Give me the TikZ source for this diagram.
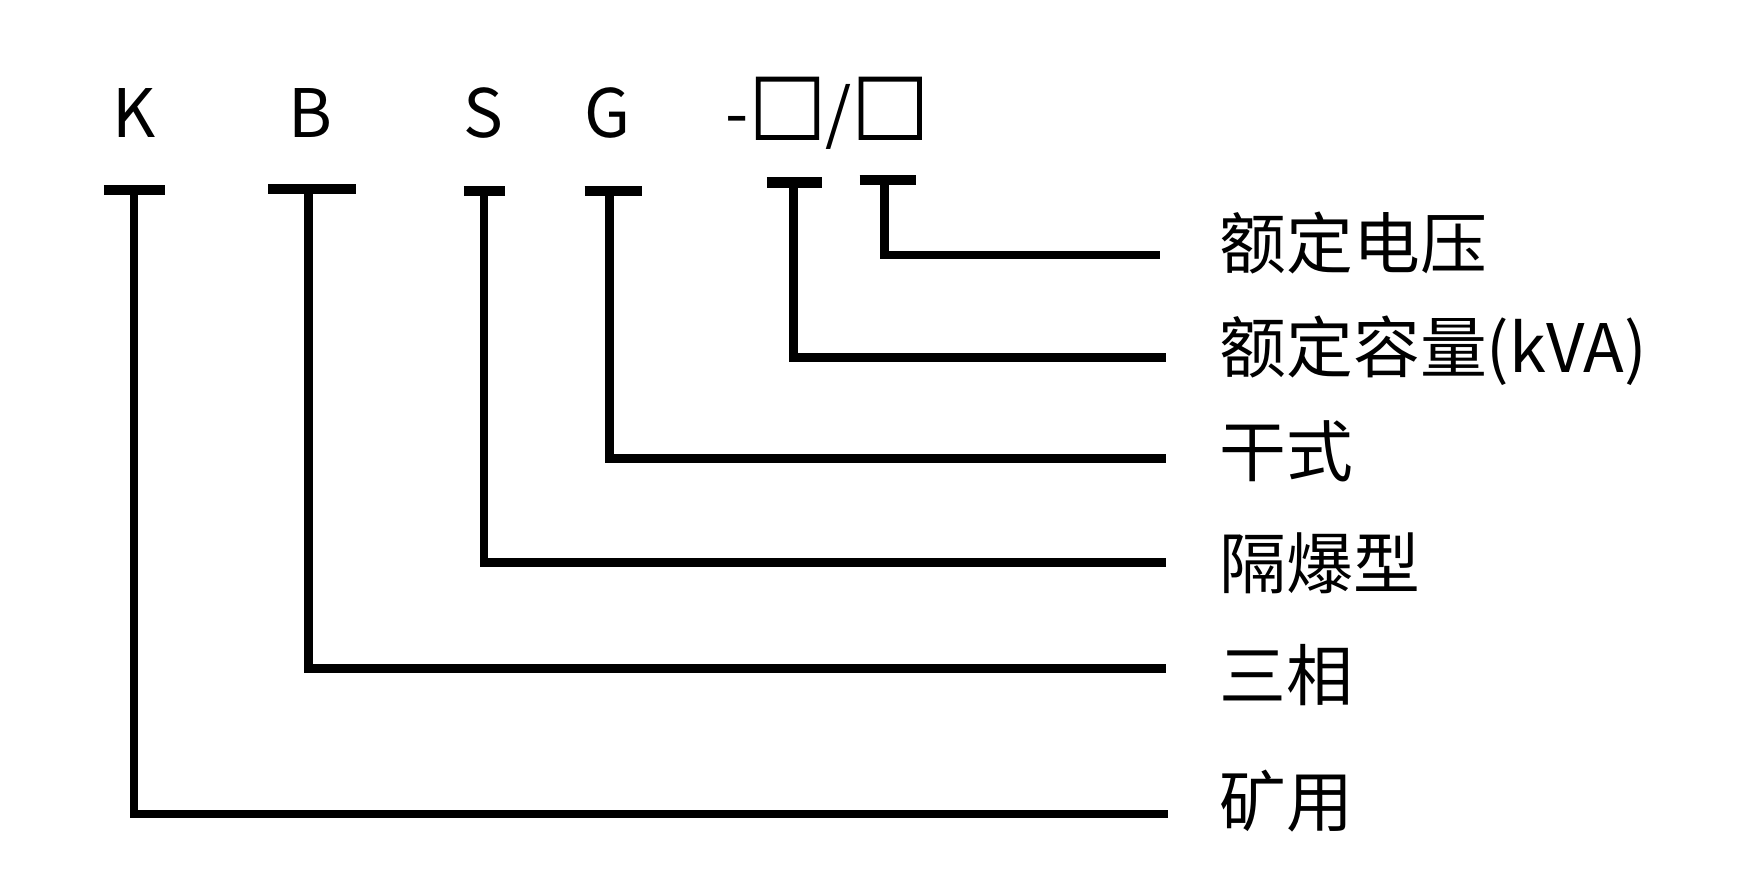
\documentclass[tikz,border=0pt]{standalone}
\usepackage{fontspec}
\setmainfont{Noto Sans CJK SC}
\newfontface\boxface[FakeBold=2.5]{Noto Sans CJK SC}
\usetikzlibrary{positioning}

\begin{document}
\begin{tikzpicture}[x=0.01cm, y=-0.01cm, line width=2.2pt,
    code/.style={font=\fontsize{17}{20}\selectfont, anchor=base, inner sep=0pt},
    meaning/.style={font=\fontsize{17}{20}\selectfont, anchor=base west, inner sep=0pt},
    bar/.style={line width=2.7pt}]
    \useasboundingbox (0, 0) rectangle (1560, 783);
    \node[code] (K) at (120, 123) {K};
    \node[code] (B) at (278, 123) {B};
    \node[code] (S) at (432, 123) {S};
    \node[code] (G) at (543, 123) {G};
    \node[code] (spec) at (740, 123) {-{\fontsize{19.5}{20}\boxface □}/{\fontsize{19.5}{20}\boxface □}};
    \node[meaning] (volt) at (1087, 240) {额定电压};
    \node[meaning] (cap) at (1087, 333) {额定容量(kVA)};
    \node[meaning] (dry) at (1087, 426) {干式};
    \node[meaning] (flame) at (1087, 526) {隔爆型};
    \node[meaning] (phase) at (1087, 627) {三相};
    \node[meaning] (mine) at (1087, 739) {矿用};
    \begin{scope}
        \coordinate (kTop) at (120, 170);
        \coordinate (kEnd) at (1045, 728);
        \draw[bar] (93, 170) -- (148, 170);
        \draw (kTop) |- (kEnd);
    \end{scope}
    \begin{scope}
        \coordinate (bTop) at (276, 169);
        \coordinate (bEnd) at (1043, 598);
        \draw[bar] (240, 169) -- (318, 169);
        \draw (bTop) |- (bEnd);
    \end{scope}
    \begin{scope}
        \coordinate (sTop) at (433, 171);
        \coordinate (sEnd) at (1043, 503);
        \draw[bar] (415, 171) -- (452, 171);
        \draw (sTop) |- (sEnd);
    \end{scope}
    \begin{scope}
        \coordinate (gTop) at (545, 171);
        \coordinate (gEnd) at (1043, 410);
        \draw[bar] (523, 171) -- (574, 171);
        \draw (gTop) |- (gEnd);
    \end{scope}
    \begin{scope}
        \coordinate (cTop) at (710, 163);
        \coordinate (cEnd) at (1043, 320);
        \draw[bar] (686, 163) -- (735, 163);
        \draw (cTop) |- (cEnd);
    \end{scope}
    \begin{scope}
        \coordinate (vTop) at (791, 161);
        \coordinate (vEnd) at (1038, 228);
        \draw[bar] (769, 161) -- (819, 161);
        \draw (vTop) |- (vEnd);
    \end{scope}
\end{tikzpicture}
\end{document}
